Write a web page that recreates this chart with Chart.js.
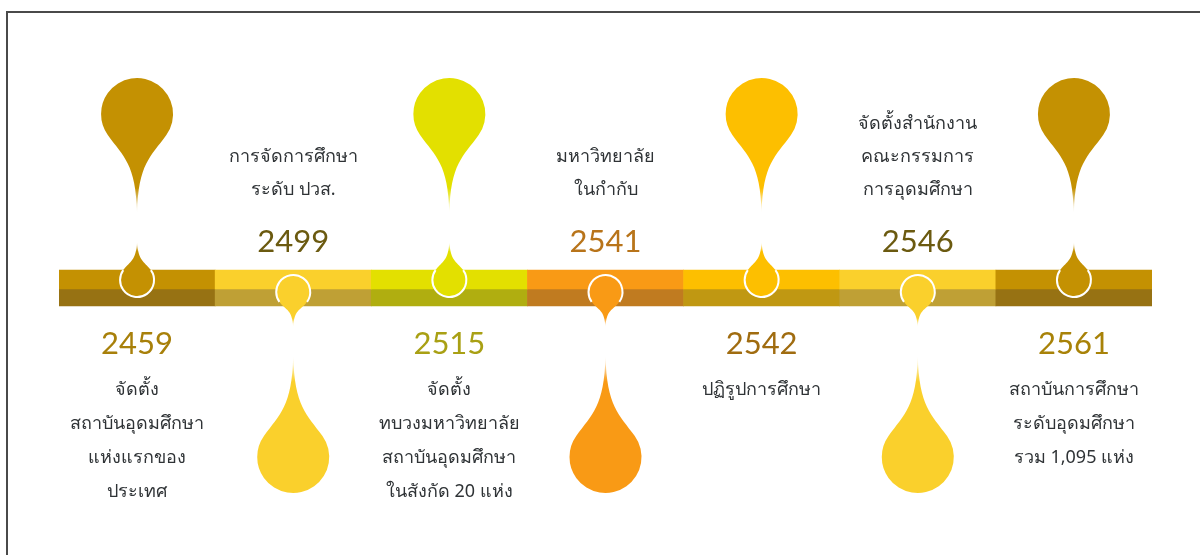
<!DOCTYPE html>
<html>
<head>
<meta charset="utf-8">
<script src="https://cdn.jsdelivr.net/npm/chart.js@4.4.0/dist/chart.umd.min.js"></script>
<style>
  html, body { margin: 0; padding: 0; background: #fff; }
  #wrap { width: 1200px; height: 555px; position: relative; }
</style>
</head>
<body>
<div id="wrap"><canvas id="timeline" width="1200" height="555"></canvas></div>
<script>
// timeline data
var years = ['2459', '2499', '2515', '2541', '2542', '2546', '2561'];
var descriptions = [
  ['จัดตั้ง', 'สถาบันอุดมศึกษา', 'แห่งแรกของ', 'ประเทศ'],
  ['การจัดการศึกษา', 'ระดับ ปวส.'],
  ['จัดตั้ง', 'ทบวงมหาวิทยาลัย', 'สถาบันอุดมศึกษา', 'ในสังกัด 20 แห่ง'],
  ['มหาวิทยาลัย', 'ในกำกับ'],
  ['ปฏิรูปการศึกษา'],
  ['จัดตั้งสำนักงาน', 'คณะกรรมการ', 'การอุดมศึกษา'],
  ['สถาบันการศึกษา', 'ระดับอุดมศึกษา', 'รวม 1,095 แห่ง']
];
// which side of the bar the big pin sits on
var pinSide = ['up', 'down', 'up', 'down', 'up', 'down', 'up'];

// colours
var topColors = ['#C49102', '#FAD02C', '#E3E000', '#F99A15', '#FDBF00', '#FAD02C', '#C49102'];
var bottomColors = ['#977213', '#BFA035', '#B0AE10', '#C07B20', '#C09812', '#BFA035', '#977213'];
var yearColors = ['#A8800A', '#6B5A10', '#A9A014', '#B8741A', '#A06C10', '#6B5A10', '#A88208'];

function withAlpha(hex, a) {
  var n = parseInt(hex.slice(1), 16);
  return 'rgba(' + (n >> 16) + ',' + ((n >> 8) & 255) + ',' + (n & 255) + ',' + a + ')';
}

// draws a drop: round head at (x, cy), tail ending len px away (dir 1 = down, -1 = up)
function drawDrop(ctx, x, cy, r, len, dir, color, a, k, ring) {
  ctx.save();
  ctx.translate(x, cy);
  ctx.scale(1, dir);
  var px = r * Math.sin(a), py = r * Math.cos(a);
  var tx = Math.cos(a) * r * k, ty = Math.sin(a) * r * k;
  var grad = ctx.createLinearGradient(0, 0, 0, len);
  grad.addColorStop(0, color);
  grad.addColorStop(0.75, color);
  grad.addColorStop(1, withAlpha(color, 0));
  ctx.beginPath();
  ctx.arc(0, 0, r, Math.PI / 2 - a, Math.PI / 2 + a, true);
  ctx.bezierCurveTo(-px + tx, py + ty, -1.2, len * 0.5, 0, len);
  ctx.bezierCurveTo(1.2, len * 0.5, px - tx, py + ty, px, py);
  ctx.closePath();
  ctx.fillStyle = grad;
  ctx.fill();
  if (ring) {
    ctx.beginPath();
    ctx.arc(0, 0, r, Math.PI / 2 - a - 0.05, Math.PI / 2 + a + 0.05, true);
    ctx.strokeStyle = '#ffffff';
    ctx.lineWidth = 2;
    ctx.stroke();
  }
  ctx.restore();
}

var pinsPlugin = {
  id: 'pins',
  beforeDraw: function (chart) {
    var ctx = chart.ctx;
    ctx.save();
    ctx.strokeStyle = '#4a4a4a';
    ctx.lineWidth = 2;
    ctx.beginPath();
    ctx.moveTo(7, 555);
    ctx.lineTo(7, 12);
    ctx.lineTo(1200, 12);
    ctx.stroke();
    ctx.restore();
  },
  afterDatasetsDraw: function (chart) {
    var ctx = chart.ctx;
    var xs = chart.scales.x, ys = chart.scales.y;
    var mid = ys.getPixelForValue(0);
    years.forEach(function (yr, i) {
      var x = xs.getPixelForValue(i);
      var c = topColors[i];
      var up = pinSide[i] === 'up';
      if (up) {
        drawDrop(ctx, x, mid - 175, 36, 99, 1, c, 0.95, 0.75, false);
        drawDrop(ctx, x, mid - 9, 17, 38, -1, c, 0.9, 0.6, true);
      } else {
        drawDrop(ctx, x, mid + 3, 17, 35, 1, c, 0.9, 0.6, true);
        drawDrop(ctx, x, mid + 168, 36, 101, -1, c, 0.95, 0.75, false);
      }

      ctx.save();
      ctx.textAlign = 'center';
      ctx.textBaseline = 'middle';
      var lines = descriptions[i];
      ctx.fillStyle = yearColors[i];
      ctx.font = '31px Lato';
      if (up) {
        ctx.fillText(yr, x, mid + 55);
      } else {
        ctx.fillText(yr, x, mid - 47);
      }
      ctx.fillStyle = '#2f3336';
      ctx.font = '18px "Noto Sans", sans-serif';
      lines.forEach(function (t, k) {
        if (up) {
          ctx.fillText(t, x, mid + 101 + k * 34);
        } else {
          ctx.fillText(t, x, mid - 99 - (lines.length - 1 - k) * 33);
        }
      });
      ctx.restore();
    });
  }
};

var ctx = document.getElementById('timeline').getContext('2d');
new Chart(ctx, {
  type: 'bar',
  data: {
    labels: years,
    datasets: [
      {
        label: 'top band',
        data: years.map(function () { return [0, 19]; }),
        backgroundColor: topColors,
        borderWidth: 0,
        barPercentage: 1,
        categoryPercentage: 1,
        grouped: false
      },
      {
        label: 'bottom band',
        data: years.map(function () { return [-17, 0]; }),
        backgroundColor: bottomColors,
        borderWidth: 0,
        barPercentage: 1,
        categoryPercentage: 1,
        grouped: false
      }
    ]
  },
  options: {
    responsive: false,
    animation: false,
    layout: { padding: { left: 59, right: 48, top: 0, bottom: 0 } },
    plugins: {
      legend: { display: false },
      tooltip: { enabled: false },
      title: { display: false }
    },
    scales: {
      x: { display: false, offset: true, grid: { display: false } },
      y: { display: false, min: -266, max: 289, grid: { display: false } }
    }
  },
  plugins: [pinsPlugin]
});
</script>
</body>
</html>
